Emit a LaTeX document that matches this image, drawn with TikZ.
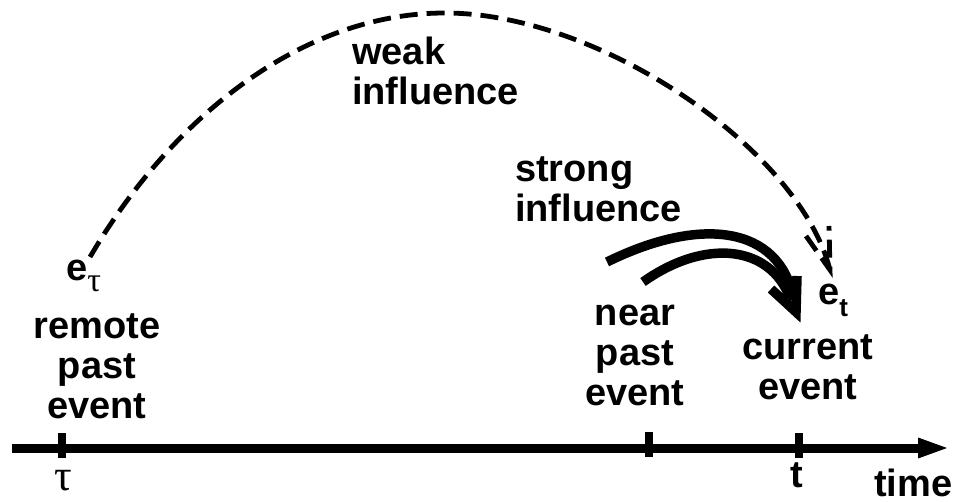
\documentclass[tikz,border=0pt]{standalone}
\usepackage{fontspec}
\setmainfont{Liberation Sans}
\newfontfamily\greekfont{Liberation Serif}
\usetikzlibrary{arrows.meta}
\begin{document}
\begin{tikzpicture}[x=1pt,y=-1pt,
  lbl/.style={font=\fontsize{38}{40}\selectfont\bfseries, inner sep=0pt, align=center},
  axisline/.style={line width=9pt},
  tickmark/.style={line width=8pt},
  weakline/.style={line width=4.8pt, dash pattern=on 18pt off 9pt},
  strongline/.style={line width=9.5pt}
]
\useasboundingbox (0,0) rectangle (957,502);

% time axis
\coordinate (ax0) at (12,448);
\coordinate (ax1) at (950,448);
\draw[axisline,-{Triangle[length=32pt,width=18pt]}] (ax0) -- (ax1);
\draw[tickmark] (62,433) -- (62,458);
\draw[tickmark] (649,432) -- (649,457);
\draw[tickmark] (799,433) -- (799,458);

% axis labels
\node[lbl, anchor=base] (tau) at (63,490) {\fontsize{44}{44}\selectfont\greekfont\mdseries τ};
\node[lbl, anchor=base] (tl) at (797,487) {t};
\node[lbl, anchor=base west] (time) at (874,496) {time};

% event labels (base anchor of a multi-line node = last line's baseline)
\node[lbl, anchor=base west] (etau) at (66,280) {e\raisebox{-11pt}{\fontsize{34}{34}\selectfont\greekfont\mdseries τ}};
\node[lbl, anchor=base west] (et) at (818,305) {e\raisebox{-12pt}{\fontsize{26}{26}\selectfont t}};
\node[lbl, anchor=base] (remote) at (97,418) {remote\\past\\event};
\node[lbl, anchor=base] (near) at (635,405) {near\\past\\event};
\node[lbl, anchor=base] (current) at (808,399) {current\\event};
\node[lbl, anchor=base west, align=left] (weak) at (352,105) {weak\\influence};
\node[lbl, anchor=base west, align=left] (strong) at (515,222) {strong\\influence};

% weak influence (dashed)
\coordinate (ws) at (90,257);
\coordinate (wtop) at (445,13);
\coordinate (wtip) at (830,270);
\draw[weakline] (ws) .. controls (170,120) and (300,13) .. (wtop)
  .. controls (600,13) and (800,150) .. (wtip);
\draw[weakline] (806,236) -- (wtip) -- (829,226);

% strong influence (solid)
\coordinate (s1) at (607,262);
\coordinate (s2) at (643,282);
\coordinate (stip) at (796,312);
\draw[strongline] (s1) .. controls (700,216) and (780,225) .. (794,300);
\draw[strongline] (s2) .. controls (705,238) and (770,245) .. (790,298);
\draw[strongline, line join=miter] (771,289) -- (stip) -- (797,276);
\end{tikzpicture}
\end{document}
